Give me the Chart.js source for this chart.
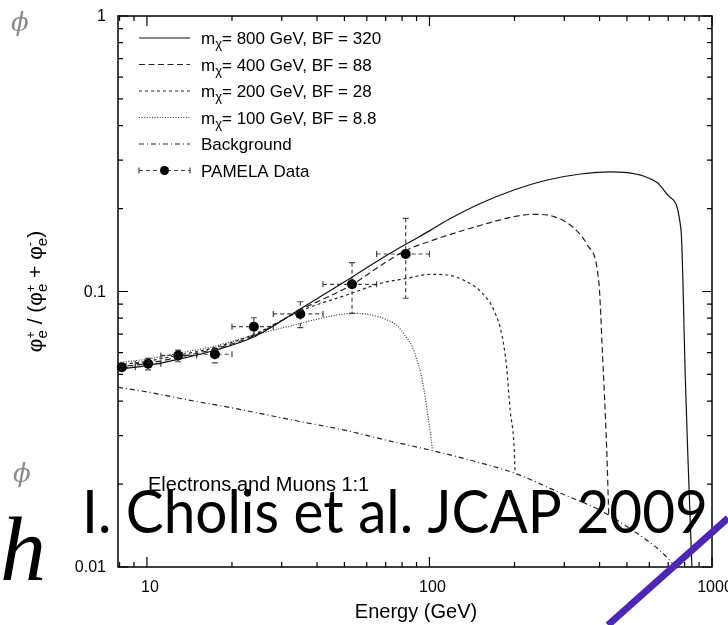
<!DOCTYPE html>
<html>
<head>
<meta charset="utf-8">
<script src="https://cdn.jsdelivr.net/npm/chart.js@4.4.0/dist/chart.umd.min.js"></script>
<style>
  html, body { margin: 0; padding: 0; background: #fff; }
</style>
</head>
<body>
<canvas id="fraction-chart" width="728" height="625"></canvas>
<script>
// Positron fraction curves (energy in GeV, fraction)
const e800 = [7.9, 10, 13, 17, 24, 35, 53, 67, 83, 100, 116, 152, 199, 261, 343, 438, 501, 575, 641, 706, 777, 805, 820, 849];
const r800 = [0.0522, 0.0538, 0.0568, 0.0608, 0.0685, 0.0865, 0.1125, 0.131, 0.149, 0.166, 0.1817, 0.209, 0.2335, 0.254, 0.267, 0.272, 0.270, 0.262, 0.248, 0.221, 0.167, 0.0477, 0.0266, 0.0100];

const e400 = [7.9, 10, 13, 17, 24, 35, 53, 67, 83, 100, 116, 152, 199, 234, 276, 325, 362, 398, 409, 424, 431];
const r400 = [0.0532, 0.0548, 0.0578, 0.0615, 0.0692, 0.0858, 0.1056, 0.124, 0.1415, 0.152, 0.160, 0.174, 0.187, 0.1906, 0.187, 0.1696, 0.1475, 0.107, 0.0613, 0.0266, 0.0155];

const e200 = [7.9, 10, 13, 17, 24, 35, 53, 67, 83, 101, 116, 132, 152, 169, 181, 187.5, 193, 199, 201];
const r200 = [0.0542, 0.0558, 0.0588, 0.0622, 0.0700, 0.0850, 0.0985, 0.107, 0.1116, 0.1154, 0.1148, 0.110, 0.0998, 0.0857, 0.0685, 0.0533, 0.0371, 0.0281, 0.0219];

const e100 = [7.9, 10, 13, 17, 24, 35, 45, 53, 60, 66, 71, 77, 83, 87, 90, 93, 96, 98.5, 101, 102.5];
const r100 = [0.0552, 0.0568, 0.0598, 0.0630, 0.0695, 0.0766, 0.0815, 0.0833, 0.0828, 0.081, 0.0788, 0.075, 0.068, 0.063, 0.057, 0.051, 0.043, 0.036, 0.030, 0.0266];

const eBg = [7.9, 10, 14, 20, 35, 50, 70, 100, 140, 200, 300, 400, 546, 659, 745];
const rBg = [0.0449, 0.0432, 0.0404, 0.0378, 0.0337, 0.0314, 0.0289, 0.0266, 0.0244, 0.0219, 0.0183, 0.0161, 0.0132, 0.0114, 0.0100];

// PAMELA points with bin edges and error range
const pamE = [8.15, 10.1, 12.9, 17.4, 23.9, 34.9, 53.2, 82.4];
const pamR = [0.0531, 0.0547, 0.0586, 0.0592, 0.0745, 0.0829, 0.1062, 0.1368];
const pamELo = [7.4, 9.1, 11.2, 15.0, 20.0, 28.0, 42.0, 65.0];
const pamEHi = [9.1, 11.2, 15.0, 20.0, 28.0, 42.0, 65.0, 100];
const pamRLo = [0.0517, 0.0519, 0.0556, 0.0551, 0.0691, 0.0739, 0.0833, 0.0945];
const pamRHi = [0.0546, 0.0572, 0.0613, 0.0622, 0.0803, 0.0918, 0.1272, 0.1844];

const seriesLabels = ['m\u03c7= 800 GeV, BF = 320', 'm\u03c7= 400 GeV, BF = 88', 'm\u03c7= 200 GeV, BF = 28',
                      'm\u03c7= 100 GeV, BF = 8.8', 'Background', 'PAMELA Data'];
const xTickLabels = [10, 100, 1000];
const yTickLabels = [0.01, 0.1, 1];

const SANS = '"Liberation Sans", Arial, sans-serif';

function toPoints(xs, ys) {
  return xs.map((x, i) => ({ x: x, y: ys[i] }));
}

function curve(label, xs, ys, dash, colour) {
  return {
    label: label,
    data: toPoints(xs, ys),
    borderColor: colour,
    borderWidth: 1.2,
    borderDash: dash,
    pointRadius: 0,
    fill: false,
    cubicInterpolationMode: 'monotone'
  };
}

// all minor / major tick values of a log axis between min and max
function logTickValues(min, max) {
  const vals = [];
  for (let d = Math.floor(Math.log10(min)); d <= Math.ceil(Math.log10(max)); d++) {
    for (let m = 1; m < 10; m++) {
      const v = m * Math.pow(10, d);
      if (v >= min * 0.999 && v <= max * 1.001) vals.push({ v: v, major: m === 1 });
    }
  }
  return vals;
}

// draw text pieces with sub/superscripts, returns the advance
function drawRich(ctx, parts, x, y, measureOnly) {
  let cx = x;
  let i = 0;
  while (i < parts.length) {
    const p = parts[i];
    ctx.font = p.size + 'px ' + SANS;
    let w = ctx.measureText(p.t).width;
    if (!measureOnly) ctx.fillText(p.t, cx, y + (p.dy || 0));
    // stacked piece: draw next part at the same x
    if (p.stack && parts[i + 1]) {
      const q = parts[i + 1];
      ctx.font = q.size + 'px ' + SANS;
      const w2 = ctx.measureText(q.t).width;
      if (!measureOnly) ctx.fillText(q.t, cx, y + (q.dy || 0));
      w = Math.max(w, w2);
      i++;
    }
    cx += w;
    i++;
  }
  return cx - x;
}

const legendStyles = [
  { dash: [], colour: '#111' },
  { dash: [6, 3.5], colour: '#222' },
  { dash: [3, 3], colour: '#222' },
  { dash: [1, 1.6], colour: '#333' },
  { dash: [5, 3, 1, 3], colour: '#222' }
];

// Error bars for the PAMELA points, under the curves
const errorBars = {
  id: 'errorBars',
  beforeDatasetsDraw(chart) {
    const ctx = chart.ctx, xs = chart.scales.x, ys = chart.scales.y, a = chart.chartArea;
    ctx.save();
    ctx.beginPath();
    ctx.rect(a.left, a.top, a.right - a.left, a.bottom - a.top);
    ctx.clip();
    ctx.strokeStyle = '#444';
    ctx.lineWidth = 1.2;
    for (let i = 0; i < pamE.length; i++) {
      const px = xs.getPixelForValue(pamE[i]), py = ys.getPixelForValue(pamR[i]);
      const x0 = xs.getPixelForValue(pamELo[i]), x1 = xs.getPixelForValue(pamEHi[i]);
      const y0 = ys.getPixelForValue(pamRLo[i]), y1 = ys.getPixelForValue(pamRHi[i]);
      ctx.setLineDash([4, 3]);
      ctx.beginPath();
      ctx.moveTo(x0, py); ctx.lineTo(x1, py);
      ctx.moveTo(px, y1); ctx.lineTo(px, y0);
      ctx.stroke();
      ctx.setLineDash([]);
      ctx.beginPath();
      ctx.moveTo(x0, py - 3); ctx.lineTo(x0, py + 3);
      ctx.moveTo(x1, py - 3); ctx.lineTo(x1, py + 3);
      ctx.moveTo(px - 3, y1); ctx.lineTo(px + 3, y1);
      ctx.moveTo(px - 3, y0); ctx.lineTo(px + 3, y0);
      ctx.stroke();
    }
    ctx.restore();
  }
};

// Frame, inward ticks on all sides, labels and titles
const frameAndTicks = {
  id: 'frameAndTicks',
  afterDraw(chart) {
    const ctx = chart.ctx, xs = chart.scales.x, ys = chart.scales.y, a = chart.chartArea;
    ctx.save();
    ctx.strokeStyle = '#000';
    ctx.lineWidth = 1.5;
    ctx.setLineDash([]);
    ctx.strokeRect(a.left, a.top, a.right - a.left, a.bottom - a.top);

    ctx.lineWidth = 1.2;
    ctx.beginPath();
    logTickValues(xs.min, xs.max).forEach((t) => {
      const px = xs.getPixelForValue(t.v), len = t.major ? 10 : 5;
      ctx.moveTo(px, a.bottom); ctx.lineTo(px, a.bottom - len);
      ctx.moveTo(px, a.top); ctx.lineTo(px, a.top + len);
    });
    logTickValues(ys.min, ys.max).forEach((t) => {
      const py = ys.getPixelForValue(t.v), len = t.major ? 10 : 5;
      ctx.moveTo(a.left, py); ctx.lineTo(a.left + len, py);
      ctx.moveTo(a.right, py); ctx.lineTo(a.right - len, py);
    });
    ctx.stroke();

    // tick labels
    ctx.fillStyle = '#000';
    ctx.font = '16px ' + SANS;
    ctx.textAlign = 'center';
    ctx.textBaseline = 'alphabetic';
    xTickLabels.forEach((v) => {
      ctx.fillText(String(v), xs.getPixelForValue(v) + 3, a.bottom + 25);
    });
    ctx.textAlign = 'right';
    ctx.textBaseline = 'middle';
    yTickLabels.forEach((v) => {
      ctx.fillText(String(v), a.left - 12, ys.getPixelForValue(v) + 1);
    });

    // axis titles
    ctx.textAlign = 'center';
    ctx.textBaseline = 'alphabetic';
    ctx.font = '20px ' + SANS;
    ctx.fillText('Energy (GeV)', (a.left + a.right) / 2 + 1, 618);

    const yTitle = [
      { t: '\u03c6', size: 21 }, { t: 'e', size: 15, dy: 5, stack: true }, { t: '+', size: 12, dy: -7 },
      { t: ' / (', size: 21 },
      { t: '\u03c6', size: 21 }, { t: 'e', size: 15, dy: 5, stack: true }, { t: '+', size: 12, dy: -7 },
      { t: ' + ', size: 21 },
      { t: '\u03c6', size: 21 }, { t: 'e', size: 15, dy: 5, stack: true }, { t: '-', size: 12, dy: -8 },
      { t: ')', size: 21 }
    ];
    ctx.save();
    ctx.translate(42, (a.top + a.bottom) / 2);
    ctx.rotate(-Math.PI / 2);
    ctx.textAlign = 'left';
    const w = drawRich(ctx, yTitle, 0, 0, true);
    drawRich(ctx, yTitle, -w / 2, 0, false);
    ctx.restore();
    ctx.restore();
  }
};

// Legend in the top left of the plot
const legendBox = {
  id: 'legendBox',
  afterDraw(chart) {
    const ctx = chart.ctx;
    ctx.save();
    ctx.fillStyle = '#000';
    ctx.textAlign = 'left';
    ctx.textBaseline = 'alphabetic';
    chart.data.datasets.forEach((ds, i) => {
      const y = 38 + i * 26.5;
      const x0 = 139, x1 = 190;
      ctx.lineWidth = 1.2;
      if (i < legendStyles.length) {
        ctx.strokeStyle = legendStyles[i].colour;
        ctx.setLineDash(legendStyles[i].dash);
        ctx.beginPath(); ctx.moveTo(x0, y); ctx.lineTo(x1, y); ctx.stroke();
      } else {
        ctx.strokeStyle = '#444';
        ctx.setLineDash([4, 3]);
        ctx.beginPath(); ctx.moveTo(x0, y); ctx.lineTo(x1, y); ctx.stroke();
        ctx.setLineDash([]);
        ctx.beginPath();
        ctx.moveTo(x0, y - 3); ctx.lineTo(x0, y + 3);
        ctx.moveTo(x1, y - 3); ctx.lineTo(x1, y + 3);
        ctx.stroke();
        ctx.beginPath(); ctx.arc((x0 + x1) / 2, y, 4.5, 0, Math.PI * 2); ctx.fill();
      }
      ctx.setLineDash([]);
      const label = ds.label;
      if (label.indexOf('m\u03c7') === 0) {
        drawRich(ctx, [{ t: 'm', size: 17 }, { t: '\u03c7', size: 13, dy: 4 }, { t: label.slice(2), size: 17 }], 201, y + 6, false);
      } else {
        ctx.font = '17px ' + SANS;
        ctx.fillText(label, 201, y + 6);
      }
    });
    ctx.restore();
  }
};

// The slide bits sitting over the figure
const slideOverlay = {
  id: 'slideOverlay',
  afterDraw(chart) {
    const ctx = chart.ctx;
    ctx.save();
    ctx.fillStyle = '#000';
    ctx.textAlign = 'left';
    ctx.textBaseline = 'alphabetic';
    ctx.font = '20px ' + SANS;
    ctx.fillText('Electrons and Muons 1:1', 148, 491);

    // citation, stretched to the width it has on the slide
    ctx.font = '60px Lato, "Open Sans", sans-serif';
    const cite = 'I. Cholis et al. JCAP 2009';
    const cw = ctx.measureText(cite).width;
    ctx.save();
    ctx.translate(82, 533);
    ctx.scale(626 / cw, 1);
    ctx.fillText(cite, 0, 0);
    ctx.restore();

    ctx.fillStyle = '#8a8a8a';
    ctx.font = 'italic 26px "DejaVu Serif", serif';
    ctx.fillText('\u03d5', 11, 31);
    ctx.fillText('\u03d5', 13, 482);
    ctx.fillStyle = '#000';
    ctx.font = 'italic 92px "Liberation Serif", serif';
    ctx.fillText('h', 0, 580);

    ctx.strokeStyle = '#4a28b4';
    ctx.lineWidth = 7;
    ctx.beginPath();
    ctx.moveTo(608, 625);
    ctx.lineTo(728, 518);
    ctx.stroke();
    ctx.restore();
  }
};

var fractionChart;

makeFractionChart = function () {
  if (fractionChart) {
    fractionChart.destroy();
  }
  const datasets = [
    curve(seriesLabels[0], e800, r800, legendStyles[0].dash, legendStyles[0].colour),
    curve(seriesLabels[1], e400, r400, legendStyles[1].dash, legendStyles[1].colour),
    curve(seriesLabels[2], e200, r200, legendStyles[2].dash, legendStyles[2].colour),
    curve(seriesLabels[3], e100, r100, legendStyles[3].dash, legendStyles[3].colour),
    curve(seriesLabels[4], eBg, rBg, legendStyles[4].dash, legendStyles[4].colour),
    {
      label: seriesLabels[5],
      data: toPoints(pamE, pamR),
      showLine: false,
      pointRadius: 5,
      pointBackgroundColor: '#000',
      pointBorderColor: '#000',
      pointBorderWidth: 0,
      clip: 8
    }
  ];

  const ctx = document.getElementById('fraction-chart').getContext('2d');
  fractionChart = new Chart(ctx, {
    type: 'line',
    data: { datasets: datasets },
    options: {
      responsive: false,
      animation: false,
      layout: { padding: { left: 0, right: 16, top: 16, bottom: 0 } },
      plugins: {
        legend: { display: false },
        tooltip: { enabled: false }
      },
      scales: {
        x: {
          type: 'logarithmic',
          min: 7.9,
          max: 1000,
          grid: { display: false, drawTicks: false },
          border: { display: false },
          ticks: { display: false },
          afterFit: function (scale) { scale.height = 58; }
        },
        y: {
          type: 'logarithmic',
          min: 0.01,
          max: 1,
          grid: { display: false, drawTicks: false },
          border: { display: false },
          ticks: { display: false },
          afterFit: function (scale) { scale.width = 118; }
        }
      }
    },
    plugins: [errorBars, frameAndTicks, legendBox, slideOverlay]
  });
};

makeFractionChart();
</script>
</body>
</html>
